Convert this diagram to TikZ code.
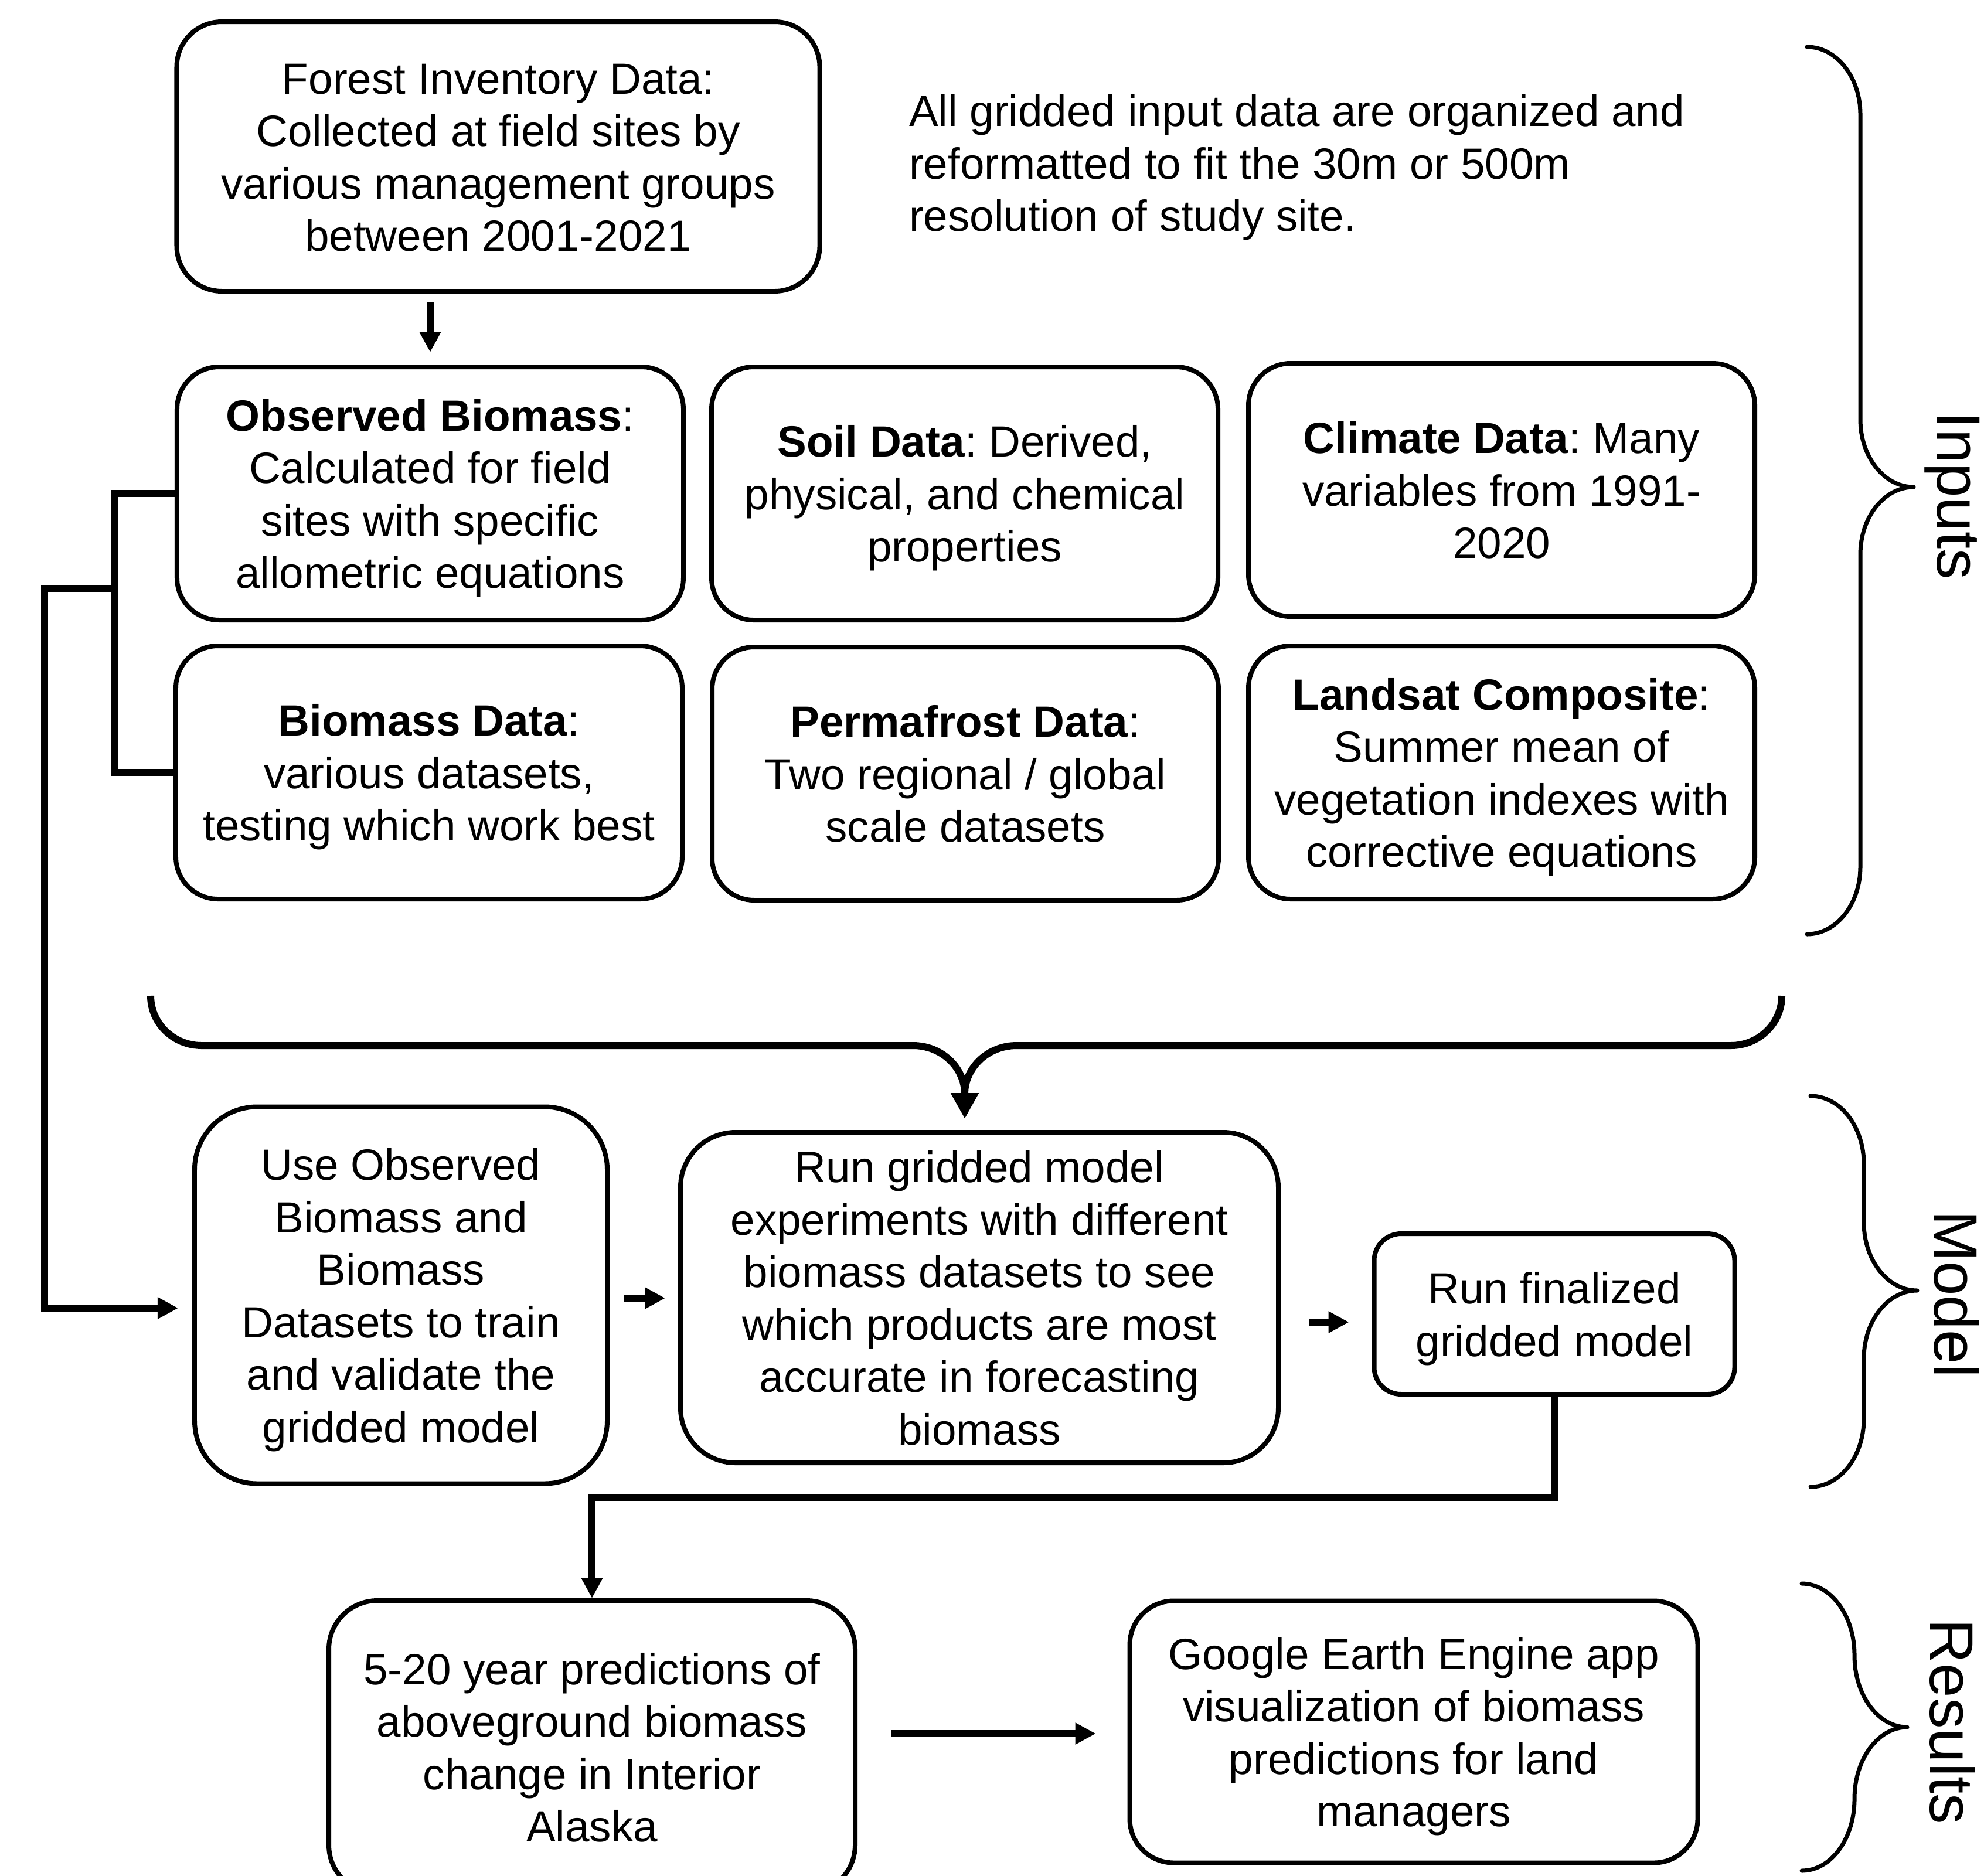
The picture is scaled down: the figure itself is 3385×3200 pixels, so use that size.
\documentclass[tikz,border=0pt]{standalone}
\usepackage{fontspec}
\setmainfont{Liberation Sans}
\usetikzlibrary{arrows.meta}
\frenchspacing
\newcommand\mys{\rule[-3.2pt]{0pt}{17.3pt}}
\newcommand\mybrace[6]{% xe yt ym yb dx ry
 \draw[brace] (#1,#2) .. controls +(0.552*#5,0) and +(0,-0.552*#6) .. (#1+#5,#2+#6)
 -- (#1+#5,#3-#6) .. controls +(0,0.552*#6) and +(-0.552*#5,0) .. (#1+2*#5,#3)
 .. controls +(-0.552*#5,0) and +(0,-0.552*#6) .. (#1+#5,#3+#6)
 -- (#1+#5,#4-#6) .. controls +(0,0.552*#6) and +(0.552*#5,0) .. (#1,#4);}
\begin{document}
\begin{tikzpicture}[x=0.2pt,y=-0.2pt,
 box/.style={draw, line width=1.6pt, align=center, inner sep=0pt, font=\fontsize{14.92}{17.9}\selectfont\frenchspacing},
 rowbox/.style={box, minimum width=172.8pt, minimum height=86.4pt, rounded corners=14.4pt},
 conn/.style={line width=2.3pt},
 arr/.style={conn, -{Triangle[length=7pt,width=7pt]}},
 brace/.style={line width=1.4pt, line cap=round, line join=round},
 bigbrace/.style={line width=2.4pt, line join=round},
 bigarr/.style={line width=2.4pt, -{Triangle[length=8.8pt,width=9pt]}},
 lab/.style={font=\fontsize{21}{25}\selectfont, rotate=-90, inner sep=0pt}
]
\useasboundingbox (0,0) rectangle (3385,3200);

% Inputs
\node[box, minimum width=219.4pt, minimum height=92pt, rounded corners=15.4pt] (forest) at (850,267)
 {\mys Forest Inventory Data:\\Collected at field sites by\\various management groups\\between 2001-2021\mys};
\node[anchor=west, align=left, inner sep=0pt, font=\fontsize{14.92}{17.9}\selectfont\frenchspacing] (note) at (1550,278)
 {\mys All gridded input data are organized and\\reformatted to fit the 30m or 500m\\resolution of study site.\mys};

\node[rowbox] (obs) at (734,842) {\mys\textbf{Observed Biomass}:\\Calculated for field\\sites with specific\\allometric equations\mys};
\node[rowbox] (soil) at (1646,842) {\mys\textbf{Soil Data}: Derived,\\physical, and chemical\\properties\mys};
\node[rowbox] (climate) at (2562,836) {\mys\textbf{Climate Data}: Many\\variables from 1991-\\2020\mys};
\node[rowbox] (biodata) at (732,1318) {\mys\textbf{Biomass Data}:\\various datasets,\\testing which work best\mys};
\node[rowbox] (perma) at (1647,1320) {\mys\textbf{Permafrost Data}:\\Two regional / global\\scale datasets\mys};
\node[rowbox] (landsat) at (2562,1318) {\mys\textbf{Landsat Composite}:\\Summer mean of\\vegetation indexes with\\corrective equations\mys};

% Model
\node[box, minimum width=140.8pt, minimum height=128.6pt, rounded corners=21.4pt] (useobs) at (684,2210)
 {\mys Use Observed\\Biomass and\\Biomass\\Datasets to train\\and validate the\\gridded model\mys};
\node[box, minimum width=204pt, minimum height=112.8pt, rounded corners=18.8pt] (rungrid) at (1671,2214)
 {\mys Run gridded model\\experiments with different\\biomass datasets to see\\which products are most\\accurate in forecasting\\biomass\mys};
\node[box, minimum width=123pt, minimum height=54.8pt, rounded corners=9.2pt] (final) at (2652,2242)
 {\mys Run finalized\\gridded model\mys};

% Results
\node[box, minimum width=179.6pt, minimum height=100pt, rounded corners=16.6pt] (pred) at (1010,2981)
 {\mys 5-20 year predictions of\\aboveground biomass\\change in Interior\\Alaska\mys};
\node[box, minimum width=193.8pt, minimum height=89.4pt, rounded corners=15pt] (gee) at (2412,2955)
 {\mys Google Earth Engine app\\visualization of biomass\\predictions for land\\managers\mys};

% connectors
\draw[arr, shorten <=3pt, shorten >=4.2pt] (obs.north |- forest.south) -- (obs.north);
\coordinate (brk) at (196,1004);
\draw[conn] (obs.west) -| (brk) |- (biodata.west);
\coordinate (lft) at (76,2232);
\draw[arr, shorten >=4.8pt] (brk) -| (lft) -- (useobs.west |- lft);
\coordinate (ya) at (0,2215);
\draw[arr, shorten <=5pt, shorten >=4.4pt] (useobs.east |- ya) -- (rungrid.west |- ya);
\coordinate (yb) at (0,2256);
\draw[arr, shorten <=9.8pt, shorten >=7.8pt] (rungrid.east |- yb) -- (final.west |- yb);
\coordinate (turn) at (0,2555);
\draw[arr] (final.south) -- (final.south |- turn) -| (pred.north);
\coordinate (yc) at (0,2958);
\draw[arr, shorten <=11.4pt, shorten >=10.8pt] (pred.east |- yc) -- (gee.west |- yc);

% big brace
\coordinate (btip) at (1646,1867);
\draw[bigbrace] (257,1699) .. controls (257,1746) and (296,1784) .. (344,1784) -- (1558,1784)
 .. controls (1606,1784) and (1646,1821) .. (btip)
 .. controls (1646,1821) and (1686,1784) .. (1734,1784) -- (2953,1784)
 .. controls (3001,1784) and (3040,1746) .. (3040,1699);
\draw[bigarr, shorten >=3.8pt] (btip) -- (btip |- rungrid.north);

% side braces
\mybrace{3083}{80}{831}{1594}{91}{115}
\mybrace{3089}{1870}{2202}{2537}{91}{116}
\mybrace{3074}{2702}{2947}{3192}{90}{122}
\node[lab] (linputs) at (3331,846) {Inputs};
\node[lab] (lmodel) at (3338,2208) {Model};
\node[lab] (lresults) at (3331,2938) {Results};
\end{tikzpicture}
\end{document}
